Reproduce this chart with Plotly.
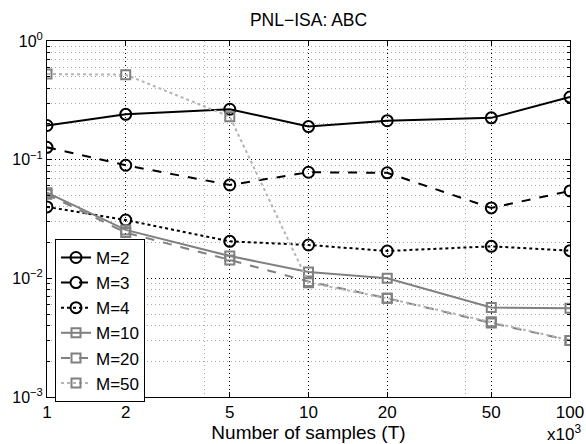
import plotly.graph_objects as go

T = [1, 2, 5, 10, 20, 50, 100]
m2 = [0.194, 0.241, 0.266, 0.190, 0.213, 0.225, 0.337]
m3 = [0.127, 0.0897, 0.0612, 0.0783, 0.0775, 0.0392, 0.0545]
m4 = [0.040, 0.031, 0.0205, 0.0191, 0.0170, 0.0186, 0.0171]
m10 = [0.0527, 0.0256, 0.0154, 0.0113, 0.0100, 0.00567, 0.0056]
m20 = [0.051, 0.0243, 0.0143, 0.0094, 0.0068, 0.0042, 0.0030]
m50 = [0.527, 0.520, 0.230, 0.0092, 0.0068, 0.0043, 0.0030]

xticks = [1, 2, 5, 10, 20, 50, 100]
xtick_labels = ["1", "2", "5", "10", "20", "50", "100"]
yticks = [0.001, 0.01, 0.1, 1]
ytick_labels = ["10<sup>−3</sup>", "10<sup>−2</sup>", "10<sup>−1</sup>", "10<sup>0</sup>"]

BLACK = "#000000"
GRAY = "#808080"
LIGHT = "#b4b4b4"

series = [
    ("M=2", m2, BLACK, "solid", "circle-open", BLACK),
    ("M=3", m3, BLACK, "dash", "circle-open", BLACK),
    ("M=4", m4, BLACK, "dot", "circle-open", BLACK),
    ("M=10", m10, GRAY, "solid", "square-open", GRAY),
    ("M=20", m20, GRAY, "dash", "square-open", GRAY),
    ("M=50", m50, LIGHT, "dot", "square-open", GRAY),
]

fig = go.Figure()
for name, ys, col, dash, sym, mcol in series:
    fig.add_trace(go.Scatter(
        x=T, y=ys, name=name, mode="lines+markers",
        line=dict(color=col, width=2, dash=dash),
        marker=dict(symbol=sym, size=11 if "circle" in sym else 9,
                    color=mcol, line=dict(width=2, color=mcol)),
    ))

font = "Liberation Sans, Arial, sans-serif"
fig.update_layout(
    width=586, height=444,
    margin=dict(l=47, r=16, t=41, b=47),
    paper_bgcolor="white", plot_bgcolor="white",
    font=dict(family=font, size=16, color="black"),
    title=dict(text="PNL−ISA: ABC", x=0.5265, xanchor="center", y=0.955,
               yanchor="middle", font=dict(size=17.5)),
    showlegend=True,
    legend=dict(x=0.0153, y=0.444, xanchor="left", yanchor="top",
                bgcolor="white", bordercolor="black", borderwidth=1,
                font=dict(size=17), itemwidth=30, tracegroupgap=0),
    annotations=[dict(text="x10<sup>3</sup>", xref="paper", yref="paper",
                      x=0.988, y=-0.10, xanchor="center", yanchor="middle",
                      showarrow=False, font=dict(size=17))],
)
fig.update_xaxes(
    type="log", range=[0, 2], tickmode="array", tickvals=xticks,
    ticktext=xtick_labels, ticks="inside", ticklen=5, tickcolor="black",
    showline=True, linecolor="black", linewidth=1, mirror="ticks",
    showgrid=True, gridcolor="black", griddash="1px,3px", gridwidth=1,
    minor=dict(tickmode="array", tickvals=[4, 40], showgrid=True,
               gridcolor="#aaaaaa", griddash="1px,3px", ticks=""),
    zeroline=False, tickfont=dict(size=17), automargin=False,
    title=dict(text="Number of samples (T)", standoff=0, font=dict(size=19)),
)
minor_y = [m * 10 ** e for e in (-3, -2, -1) for m in range(2, 10)]
fig.update_yaxes(
    type="log", range=[-3, 0], tickmode="array", tickvals=yticks,
    ticktext=ytick_labels, ticks="inside", ticklen=5, tickcolor="black",
    showline=True, linecolor="black", linewidth=1, mirror="ticks",
    showgrid=True, gridcolor="black", griddash="1px,3px", gridwidth=1,
    minor=dict(tickmode="array", tickvals=minor_y, showgrid=True,
               gridcolor="#aaaaaa", griddash="1px,3px", ticks="inside",
               ticklen=3, tickcolor="black"),
    zeroline=False, tickfont=dict(size=16), automargin=False,
)

fig.write_html("out.html", config={"displayModeBar": False},
               post_script="document.body.style.margin='0';")
